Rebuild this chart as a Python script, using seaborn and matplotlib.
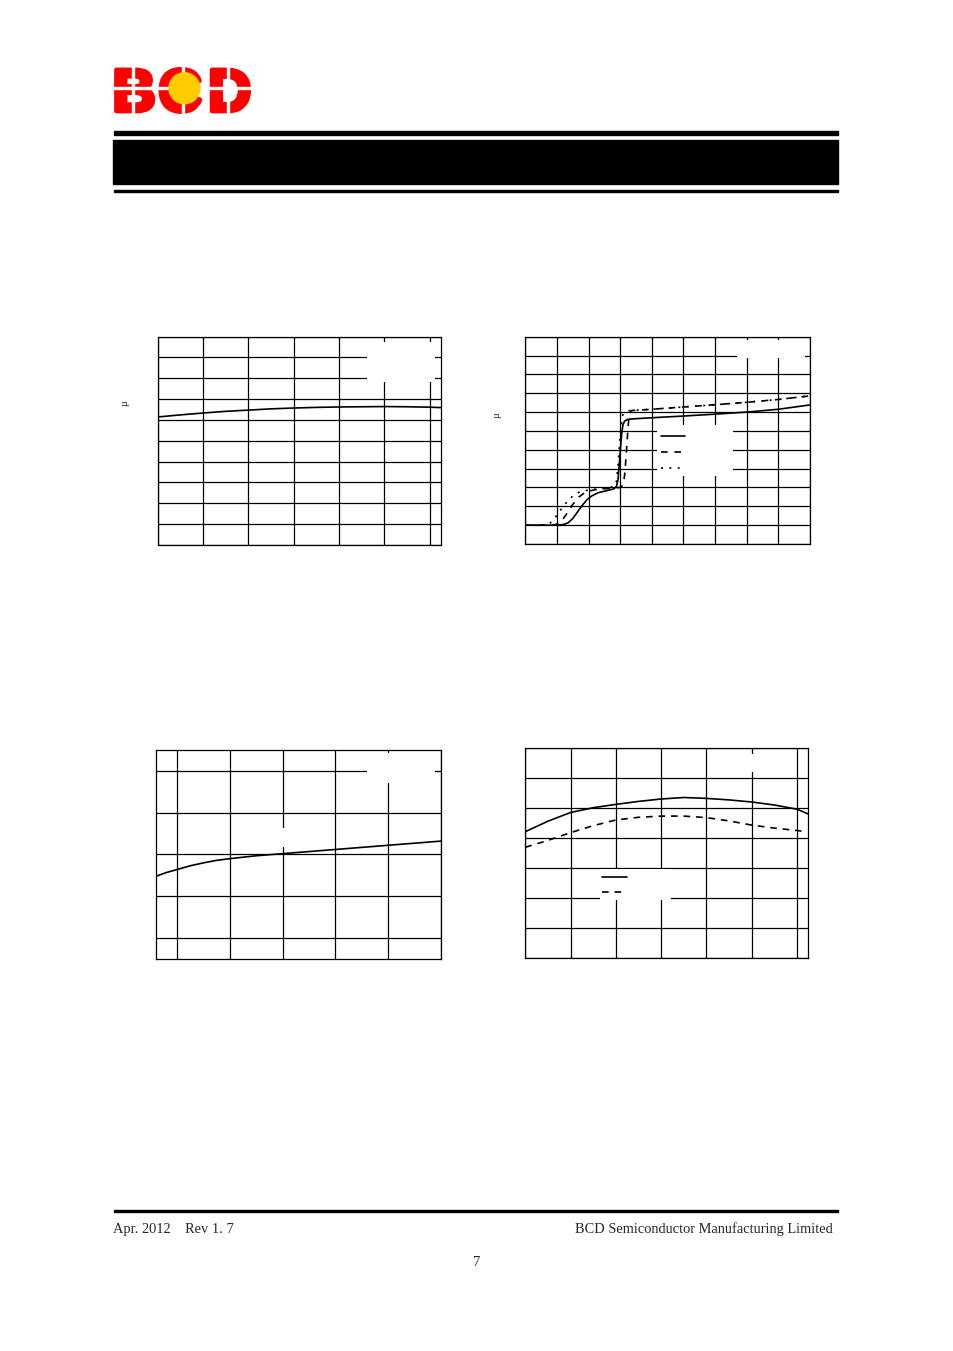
import pandas as pd
import matplotlib.pyplot as plt
import seaborn as sns
from matplotlib.patches import Rectangle, Circle
import matplotlib.patheffects as pe

# ---- data (grid units) ----
# chart 1: flat curve vs temperature
c1_temp = [-40, -30, -20, -10, 0, 10, 20, 30, 40, 50, 60, 70, 80, 85]
c1_val = [6.14, 6.24, 6.33, 6.41, 6.47, 6.53, 6.57, 6.60, 6.62, 6.63, 6.64, 6.63, 6.61, 6.59]

# chart 2: three step curves
c2_solid_x = [0, 0.5, 1.0, 1.2, 1.35, 1.5, 1.65, 1.8, 1.95, 2.1, 2.3, 2.5, 2.7, 2.8, 2.88, 2.93,
              2.97, 3.01, 3.05, 3.09, 3.14, 3.22, 3.3, 4, 5, 6, 7, 8, 9]
c2_solid_y = [1.0, 1.0, 1.0, 1.03, 1.12, 1.35, 1.7, 2.05, 2.35, 2.55, 2.72, 2.8, 2.88, 2.93, 3.05, 3.4,
              4.2, 5.1, 5.9, 6.35, 6.52, 6.6, 6.63, 6.7, 6.79, 6.89, 7.0, 7.15, 7.38]
c2_dash_x = [0, 0.5, 0.9, 1.05, 1.2, 1.35, 1.5, 1.7, 1.9, 2.2, 2.5, 2.8, 3.0, 3.1, 3.15, 3.2,
             3.24, 3.28, 3.35, 4, 5, 6, 7, 8, 9]
c2_dash_y = [1.0, 1.0, 1.0, 1.1, 1.35, 1.7, 2.1, 2.5, 2.75, 2.88, 2.93, 2.97, 3.0, 3.15, 3.8, 5.0,
             6.0, 6.8, 7.08, 7.15, 7.27, 7.39, 7.52, 7.67, 7.86]
c2_dot_x = [0, 0.5, 0.75, 0.9, 1.05, 1.2, 1.35, 1.5, 1.7, 2.0, 2.3, 2.6, 2.8, 2.88, 2.93, 2.98,
            3.03, 3.08, 3.15, 3.3, 4, 5, 6, 7, 8, 9]
c2_dot_y = [1.0, 1.0, 1.05, 1.3, 1.65, 2.0, 2.3, 2.55, 2.75, 2.87, 2.92, 2.97, 3.05, 3.3, 4.2, 5.3,
            6.3, 6.85, 7.0, 7.08, 7.15, 7.27, 7.39, 7.52, 7.67, 7.86]

# chart 3: rising curve
c3_x = [-0.4, -0.2, 0, 0.25, 0.5, 0.75, 1, 1.5, 2, 2.5, 3, 3.5, 4, 4.5, 5]
c3_y = [1.48, 1.57, 1.64, 1.73, 1.8, 1.86, 1.9, 1.97, 2.02, 2.07, 2.12, 2.17, 2.22, 2.27, 2.32]

# chart 4: two arched curves vs temperature
c4_solid_t = [-40, -30, -20, -10, 0, 10, 20, 30, 40, 50, 60, 70, 80, 85]
c4_solid = [4.22, 4.57, 4.86, 5.02, 5.13, 5.23, 5.31, 5.36, 5.33, 5.28, 5.21, 5.11, 4.97, 4.81]
c4_dash_t = [-40, -30, -20, -10, 0, 10, 20, 30, 40, 50, 60, 70, 80, 82]
c4_dash = [3.7, 3.93, 4.19, 4.42, 4.61, 4.70, 4.74, 4.74, 4.69, 4.58, 4.44, 4.34, 4.26, 4.24]

sns.set_theme(style="white")
plt.rcParams['font.family'] = ['Liberation Serif', 'DejaVu Serif']

fig = plt.figure(figsize=(9.54, 13.51), dpi=100)

# page decoration in pixel coordinates
deco = fig.add_axes([0, 0, 1, 1])
deco.set_xlim(0, 954)
deco.set_ylim(1351, 0)
deco.axis('off')
for letter, cx in zip('BCD', [134, 180, 229.7]):
    deco.text(cx, 111, letter, fontsize=43, fontweight='bold', color='#ff0000',
              family='Liberation Sans', ha='center', va='baseline',
              path_effects=[pe.withStroke(linewidth=3.4, foreground='#ff0000')])
for x in [133.3, 183.3, 227.7]:
    deco.add_patch(Rectangle((x - 1, 60), 2, 60, color='white', zorder=3))
deco.add_patch(Rectangle((105, 87.3), 160, 2, color='white', zorder=3))
deco.add_patch(Circle((184.5, 88.3), 15.5, color='#ffcc00', zorder=4))
deco.add_patch(Rectangle((114, 131), 724, 4, color='black'))
deco.add_patch(Rectangle((112.7, 140), 725, 44, color='black'))
deco.add_patch(Rectangle((114, 190), 724, 2, color='black'))
deco.add_patch(Rectangle((114, 1210), 724, 2, color='black'))
deco.text(113, 1233, 'Apr. 2012    Rev 1. 7', fontsize=10.4, ha='left', va='baseline')
deco.text(833, 1233, 'BCD Semiconductor Manufacturing Limited', fontsize=10.4,
          ha='right', va='baseline')
deco.text(477, 1266, '7', fontsize=10.4, ha='center', va='baseline')


def setup(ax, xlim, xticks, ylim, yticks):
    ax.set_xlim(*xlim)
    ax.set_ylim(*ylim)
    ax.set_xticks(xticks)
    ax.set_yticks(yticks)
    ax.grid(True, color='black', linewidth=0.9)
    ax.set_axisbelow(True)
    ax.tick_params(length=0, labelbottom=False, labelleft=False)
    for s in ax.spines.values():
        s.set_color('black')
        s.set_linewidth(0.9)
    ax.set_xlabel('')
    ax.set_ylabel('')


def blank(ax, x0, x1, y0, y1):
    ax.add_patch(Rectangle((x0, y0), x1 - x0, y1 - y0, transform=ax.transAxes,
                           facecolor='white', edgecolor='none', zorder=1.5))


W, H = 954, 1351


def box(left, right, top, bottom):
    return [left / W, 1 - bottom / H, (right - left) / W, (bottom - top) / H]


ax1 = fig.add_axes(box(157.7, 441, 336.5, 545))
ax2 = fig.add_axes(box(525.3, 810, 336.7, 544))
ax3 = fig.add_axes(box(156, 440.7, 750, 959))
ax4 = fig.add_axes(box(525.3, 808.3, 748.3, 958.3))

# chart 1
df1 = pd.DataFrame({'t': c1_temp, 'v': c1_val})
sns.lineplot(data=df1, x='t', y='v', color='black', lw=1.2, estimator=None, ax=ax1)
setup(ax1, (-40, 85), range(-40, 81, 20), (0, 10), range(0, 11))
blank(ax1, 0.739, 0.979, 0.780, 0.975)
ax1.text(-0.114, 0.682, 'µ', rotation=90, fontsize=7, transform=ax1.transAxes,
         ha='center', va='center')

# chart 2
df2 = pd.concat([
    pd.DataFrame({'x': c2_solid_x, 'y': c2_solid_y, 'curve': 'solid'}),
    pd.DataFrame({'x': c2_dash_x, 'y': c2_dash_y, 'curve': 'dash'}),
    pd.DataFrame({'x': c2_dot_x, 'y': c2_dot_y, 'curve': 'dot'}),
])
sns.lineplot(data=df2, x='x', y='y', style='curve', color='black', lw=1.2,
             dashes={'solid': '', 'dash': (4, 4), 'dot': (1.2, 3.8)},
             estimator=None, sort=False, legend=False, ax=ax2)
setup(ax2, (0, 9), range(0, 10), (0, 11), range(0, 12))
blank(ax2, 0.743, 0.983, 0.896, 0.984)
blank(ax2, 0.464, 0.728, 0.328, 0.574)
ax2.legend(ax2.get_lines()[:3], [' '] * 3, loc='upper left', bbox_to_anchor=(0.4766, 0.5398),
           frameon=False, borderpad=0, borderaxespad=0, handlelength=2.2,
           handletextpad=0.2, labelspacing=0.58, fontsize=8)
ax2.text(-0.1, 0.622, 'µ', rotation=90, fontsize=7, transform=ax2.transAxes,
         ha='center', va='center')

# chart 3
df3 = pd.DataFrame({'x': c3_x, 'y': c3_y})
sns.lineplot(data=df3, x='x', y='y', color='black', lw=1.2, estimator=None, ax=ax3)
setup(ax3, (-0.4, 5), range(0, 6), (-0.5, 4.5), range(0, 5))
blank(ax3, 0.740, 0.980, 0.841, 0.986)
blank(ax3, 0.330, 0.558, 0.536, 0.627)

# chart 4
df4 = pd.concat([
    pd.DataFrame({'t': c4_solid_t, 'v': c4_solid, 'curve': 'solid'}),
    pd.DataFrame({'t': c4_dash_t, 'v': c4_dash, 'curve': 'dash'}),
])
sns.lineplot(data=df4, x='t', y='v', style='curve', color='black', lw=1.2,
             dashes={'solid': '', 'dash': (4, 3.5)}, estimator=None, legend=False, ax=ax4)
setup(ax4, (-40, 85), range(-40, 81, 20), (0, 7), range(0, 8))
blank(ax4, 0.706, 0.940, 0.887, 0.973)
blank(ax4, 0.264, 0.515, 0.278, 0.423)
ax4.legend(ax4.get_lines()[:2], [' '] * 2, loc='upper left', bbox_to_anchor=(0.272, 0.4057),
           frameon=False, borderpad=0, borderaxespad=0, handlelength=2.2,
           handletextpad=0.2, labelspacing=0.51, fontsize=8)

fig.savefig('out.png', dpi=100)
